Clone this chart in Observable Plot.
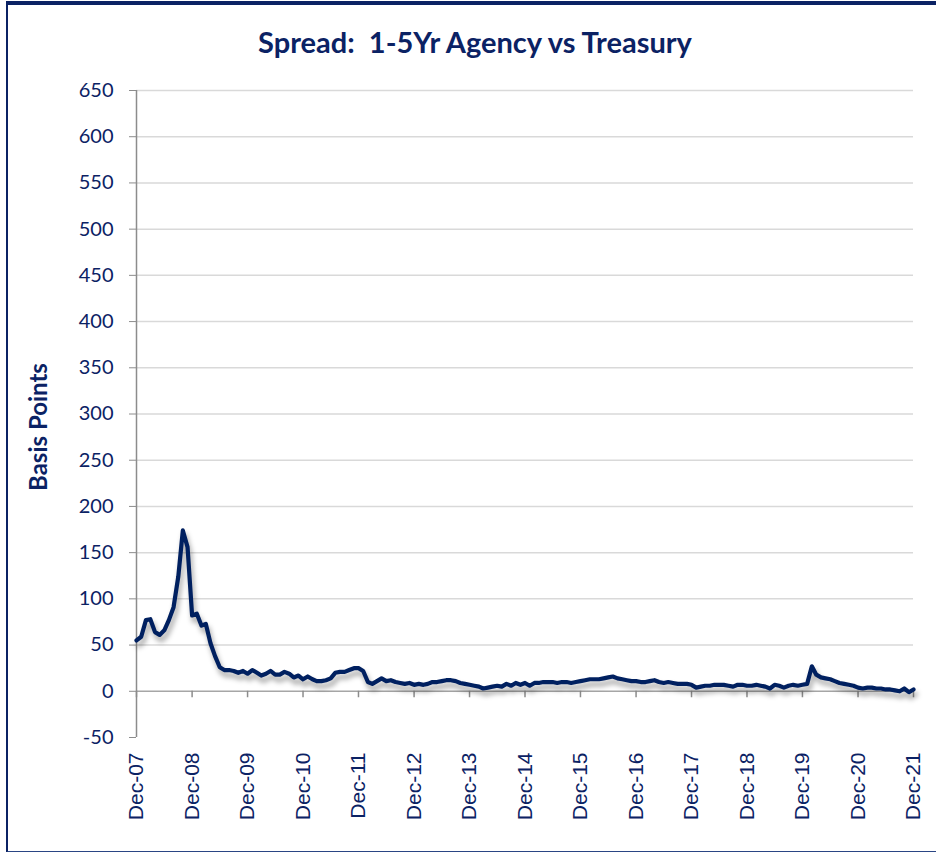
<!DOCTYPE html>
<html>
<head>
<meta charset="utf-8">
<script src="https://cdn.jsdelivr.net/npm/d3@7"></script>
<script src="https://cdn.jsdelivr.net/npm/@observablehq/plot@0.6"></script>
<style>
  html, body { margin: 0; padding: 0; background: #fff; }
  #wrap { position: relative; width: 936px; height: 852px; overflow: hidden; background: #fff; }
  #frame { position: absolute; left: 6px; top: 1px; width: 960px; height: 846px;
           border-top: 4px solid #0b2264; border-left: 2px solid #0b2264; border-bottom: 2px solid #2a4584; }
  #title { position: absolute; left: 0; top: 27px; width: 950px; text-align: center;
           font-family: Lato, sans-serif; font-weight: bold; font-size: 29px; line-height: 29px; color: #0b2264; }
  #ylab { position: absolute; left: 37px; top: 427px; transform: translate(-50%, -50%) rotate(-90deg);
          font-family: Lato, sans-serif; font-weight: bold; font-size: 24px; color: #0b2264; white-space: nowrap; }
  #chart { position: absolute; left: 0; top: 0; }
  .shadow path { filter: blur(2.5px); }
</style>
</head>
<body>
<div id="wrap">
  <div id="frame"></div>
  <div id="title">Spread:&nbsp; 1-5Yr Agency vs Treasury</div>
  <div id="ylab">Basis Points</div>
  <div id="chart"></div>
</div>
<script>
// Monthly spread values (basis points), Dec-07 .. Dec-21
const spread = [
  55, 59, 77, 78, 64, 61, 66, 77, 91, 124, 174, 156, 82,
  84, 71, 73, 52, 38, 26, 23, 23, 22, 20, 22, 19,
  23, 20, 17, 19, 22, 18, 18, 21, 19, 15, 17, 13,
  16, 13, 11, 11, 12, 14, 20, 21, 21, 23, 25, 25,
  22, 10, 8, 11, 14, 11, 12, 10, 9, 8, 9, 7,
  8, 7, 8, 10, 10, 11, 12, 12, 11, 9, 8, 7,
  6, 5, 3, 4, 5, 6, 5, 8, 6, 9, 7, 9,
  6, 9, 9, 10, 10, 10, 9, 10, 10, 9, 10, 11,
  12, 13, 13, 13, 14, 15, 16, 14, 13, 12, 11, 11,
  10, 10, 11, 12, 10, 9, 10, 9, 8, 8, 8, 7,
  4, 5, 6, 6, 7, 7, 7, 6, 5, 7, 7, 6,
  6, 7, 6, 5, 3, 7, 6, 4, 6, 7, 6, 7,
  8, 27, 18, 15, 14, 13, 11, 9, 8, 7, 6, 4,
  3, 4, 4, 3, 3, 2, 2, 1, 0, 3, -1, 2
];
const startMonth = new Date(Date.UTC(2007, 11, 1));
const endMonth = new Date(Date.UTC(2021, 11, 1));
const months = d3.utcMonth.range(startMonth, d3.utcMonth.offset(endMonth, 1));
const data = months.map((d, i) => ({date: d, value: spread[i]}));

// x tick labels (every December)
const xTickLabels = ["Dec-07","Dec-08","Dec-09","Dec-10","Dec-11","Dec-12","Dec-13","Dec-14","Dec-15","Dec-16","Dec-17","Dec-18","Dec-19","Dec-20","Dec-21"];
const xTicks = d3.utcYear.range(new Date(Date.UTC(2007,0,1)), new Date(Date.UTC(2022,0,1))).map(d => new Date(Date.UTC(d.getUTCFullYear(), 11, 1)));
const yTicks = d3.range(-50, 651, 50);
const gridTicks = yTicks.filter(v => v > 0);

const navy = "#0b2264";

const chart = Plot.plot({
  width: 936,
  height: 852,
  marginLeft: 136,
  marginRight: 23,
  marginTop: 90,
  marginBottom: 115,
  style: {background: "transparent", overflow: "visible"},
  x: {type: "utc", domain: [startMonth, endMonth], axis: null},
  y: {domain: [-50, 650], axis: null},
  marks: [
    Plot.ruleY(gridTicks, {stroke: "#d9d9d9", strokeWidth: 1.5}),
    Plot.ruleY([0], {stroke: "#a6a6a6", strokeWidth: 1.5}),
    Plot.ruleX(xTicks, {y1: 0, y2: -7, stroke: "#8c8c8c", strokeWidth: 1.5}),
    Plot.ruleX([startMonth], {y1: -50, y2: 650, stroke: "#8c8c8c", strokeWidth: 1.5}),
    Plot.axisY(yTicks, {tickSize: 7, tickPadding: 16, stroke: "#8c8c8c", fill: navy,
      fontSize: 20, fontFamily: "Lato, sans-serif", label: null, tickFormat: d => d}),
    Plot.text(xTicks, {x: d => d, y: -50, text: (d, i) => xTickLabels[i], rotate: -90, textAnchor: "end",
      dy: 15, fill: navy, fontSize: 21, fontFamily: "Liberation Sans, Arial, sans-serif"}),
    Plot.line(data, {x: "date", y: "value", stroke: "#000", strokeOpacity: 0.3, strokeWidth: 5,
      dx: 2, dy: 5, className: "shadow", curve: "linear"}),
    Plot.line(data, {x: "date", y: "value", stroke: "#002060", strokeWidth: 4.2, strokeLinejoin: "round"})
  ]
});
document.getElementById("chart").appendChild(chart);
</script>
</body>
</html>
